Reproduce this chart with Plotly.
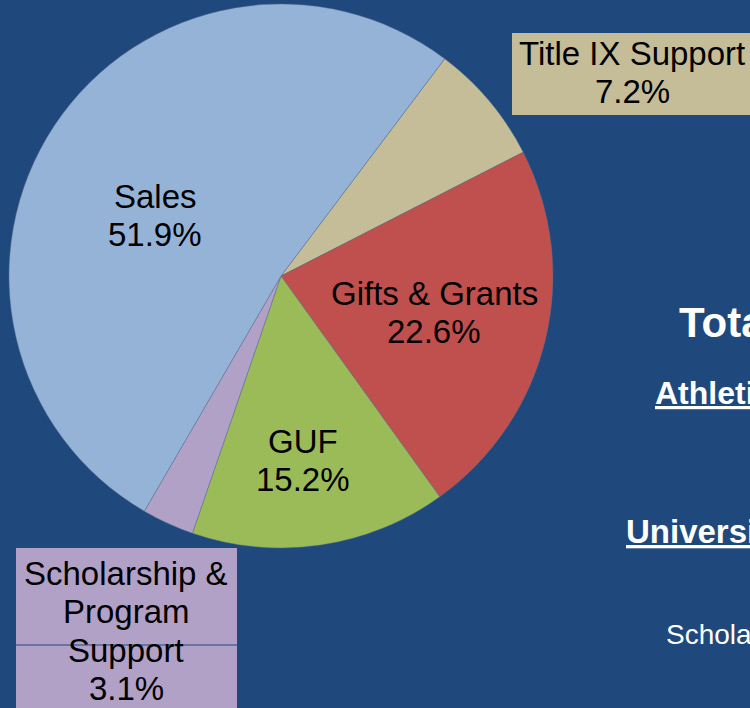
import plotly.graph_objects as go

# Revenue sources, clockwise from the Title IX slice
sources = ['Title IX Support', 'Gifts & Grants', 'GUF',
           'Scholarship & Program Support', 'Sales']
shares = [7.2, 22.6, 15.2, 3.1, 51.9]
colors = ['#C4BD97', '#C0504D', '#9BBB59', '#B2A1C7', '#95B3D7']

# label text as it is broken over lines on the slide
label_lines = {
    'Title IX Support': ['Title IX Support'],
    'Gifts & Grants': ['Gifts & Grants'],
    'GUF': ['GUF'],
    'Scholarship & Program Support': ['Scholarship &', 'Program', 'Support'],
    'Sales': ['Sales'],
}

BG = '#1F497D'
FONT = 'Liberation Sans, Arial, sans-serif'
LABEL_SIZE = 33
LINE_GAP = 38.5

fig = go.Figure()
fig.add_trace(go.Pie(
    labels=sources, values=shares,
    sort=False, direction='clockwise', rotation=37,
    marker=dict(colors=colors, line=dict(color='rgba(90,110,140,0.6)', width=0.7)),
    textinfo='none', hoverinfo='label+percent', showlegend=False,
    domain=dict(x=[9 / 750, 553 / 750], y=[1 - 548 / 708, 1 - 4 / 708]),
))

annos = []


def add_label(name, cx, top_y):
    # one annotation per line so the line spacing matches the slide
    i = sources.index(name)
    lines = label_lines[name] + [f"{shares[i]}%"]
    for k, t in enumerate(lines):
        annos.append(dict(x=cx, y=top_y + k * LINE_GAP, xref='x', yref='y', text=t,
                          showarrow=False, xanchor='center', yanchor='middle',
                          font=dict(size=LABEL_SIZE, color='black', family=FONT)))


# pixel coords on hidden axes
add_label('Sales', 155, 196)
add_label('Gifts & Grants', 434, 293)
add_label('GUF', 303, 441)
add_label('Title IX Support', 632, 53)
add_label('Scholarship & Program Support', 126, 573)

# right-hand slide text (runs off the edge)
annos += [
    dict(x=677, y=322, xref='x', yref='y', text='<b>Total Revenue</b>', showarrow=False,
         xanchor='left', yanchor='middle', font=dict(size=42, color='white', family=FONT)),
    dict(x=653, y=393, xref='x', yref='y', text='<b><u>Athletics</u></b>', showarrow=False,
         xanchor='left', yanchor='middle', font=dict(size=32, color='white', family=FONT)),
    dict(x=624, y=531, xref='x', yref='y', text='<b><u>University</u></b>', showarrow=False,
         xanchor='left', yanchor='middle', font=dict(size=33, color='white', family=FONT)),
    dict(x=664, y=634, xref='x', yref='y', text='Scholarships', showarrow=False,
         xanchor='left', yanchor='middle', font=dict(size=28, color='white', family=FONT)),
]

# label boxes
shapes = [
    dict(type='rect', xref='x', yref='y', x0=512, x1=760, y0=33, y1=115,
         fillcolor=colors[0], line=dict(width=0), layer='above'),
    dict(type='rect', xref='x', yref='y', x0=16, x1=237, y0=548, y1=720,
         fillcolor=colors[3], line=dict(width=0), layer='above'),
    dict(type='line', xref='x', yref='y', x0=16, x1=237, y0=645, y1=645,
         line=dict(color=BG, width=1), layer='above'),
]

fig.update_layout(
    width=750, height=708,
    margin=dict(l=0, r=0, t=0, b=0),
    paper_bgcolor=BG, plot_bgcolor=BG,
    xaxis=dict(range=[0, 750], visible=False, fixedrange=True),
    yaxis=dict(range=[708, 0], visible=False, fixedrange=True),
    annotations=annos, shapes=shapes,
)

fig.write_html("out.html", config={'displayModeBar': False},
               post_script="document.body.style.margin='0';")
